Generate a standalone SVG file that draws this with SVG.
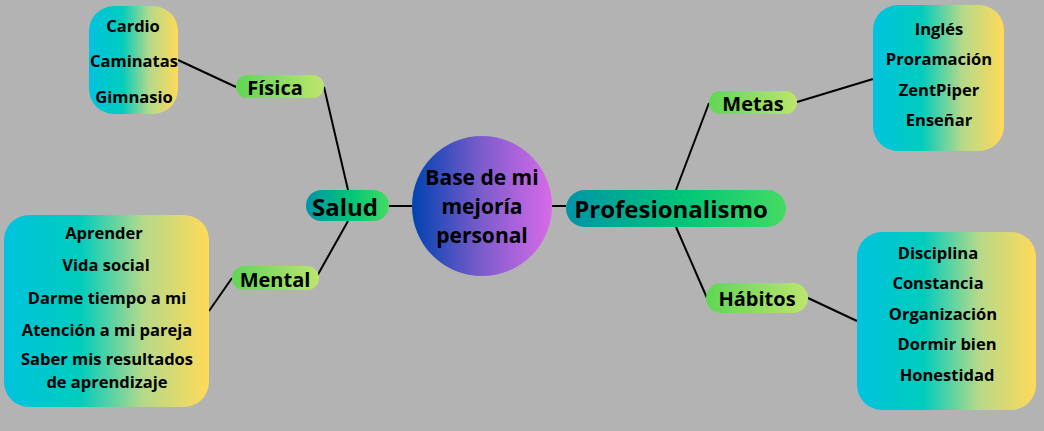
<svg xmlns="http://www.w3.org/2000/svg" width="1044" height="431" viewBox="0 0 1044 431">
<defs>
<linearGradient id="gBox" x1="0" y1="0" x2="1" y2="0">
<stop offset="0" stop-color="#00c3df"/>
<stop offset="0.37" stop-color="#00ccbd"/>
<stop offset="0.68" stop-color="#b5d98a"/>
<stop offset="1" stop-color="#ffda58"/>
</linearGradient>
<linearGradient id="gSub" x1="0" y1="0" x2="1" y2="0">
<stop offset="0" stop-color="#5fd655"/>
<stop offset="1" stop-color="#bde56c"/>
</linearGradient>
<linearGradient id="gMain" x1="0" y1="0" x2="1" y2="0">
<stop offset="0" stop-color="#0094a8"/>
<stop offset="0.55" stop-color="#00c777"/>
<stop offset="1" stop-color="#45da62"/>
</linearGradient>
<linearGradient id="gCircle" x1="0" y1="0" x2="1" y2="0">
<stop offset="0" stop-color="#0043b0"/>
<stop offset="0.5" stop-color="#7d5ccc"/>
<stop offset="1" stop-color="#d86ae8"/>
</linearGradient>
</defs>
<style>
text{font-family:"Open Sans","Noto Sans","Liberation Sans",sans-serif;font-weight:bold;fill:#000;text-anchor:middle;dominant-baseline:central}
.item{font-size:16.5px}
.sub{font-size:20px}
.main{font-size:24px}
.center{font-size:21px}
.conn{stroke:#000;stroke-width:2;fill:none}
</style>
<rect width="1044" height="431" fill="#b3b3b3"/>
<g id="connectors">
<line class="conn" x1="178" y1="60" x2="236" y2="87"/>
<line class="conn" x1="324" y1="87" x2="348" y2="190"/>
<line class="conn" x1="209" y1="311" x2="232" y2="278"/>
<line class="conn" x1="316" y1="278" x2="348" y2="221"/>
<line class="conn" x1="389" y1="206" x2="412" y2="206"/>
<line class="conn" x1="552" y1="206" x2="566" y2="206"/>
<line class="conn" x1="676" y1="190" x2="709" y2="103"/>
<line class="conn" x1="797" y1="102" x2="873" y2="79"/>
<line class="conn" x1="676" y1="227" x2="707" y2="298"/>
<line class="conn" x1="808" y1="298" x2="857" y2="321"/>
</g>
<g id="fisica-items">
<rect x="89" y="6" width="89" height="108" rx="25" fill="url(#gBox)"/>
<text class="item" x="133" y="25">Cardio</text>
<text class="item" x="134" y="60">Caminatas</text>
<text class="item" x="134" y="96">Gimnasio</text>
</g>
<g id="fisica">
<rect x="236" y="75" width="88" height="23" rx="11.5" fill="url(#gSub)"/>
<text class="sub" x="275" y="87">Física</text>
</g>
<g id="mental-items">
<rect x="4" y="215" width="205" height="192" rx="25" fill="url(#gBox)"/>
<text class="item" x="104" y="232">Aprender</text>
<text class="item" x="106" y="264">Vida social</text>
<text class="item" x="107" y="297">Darme tiempo a mi</text>
<text class="item" x="107" y="329">Atención a mi pareja</text>
<text class="item" x="107" y="358">Saber mis resultados</text>
<text class="item" x="107" y="381">de aprendizaje</text>
</g>
<g id="mental">
<rect x="232" y="266" width="87" height="24" rx="12" fill="url(#gSub)"/>
<text class="sub" x="275" y="279">Mental</text>
</g>
<g id="salud">
<rect x="306" y="190" width="83" height="31" rx="15.5" fill="url(#gMain)"/>
<text class="main" x="345" y="206">Salud</text>
</g>
<g id="centro">
<circle cx="482" cy="206" r="70" fill="url(#gCircle)"/>
<text class="center" x="482" y="177">Base de mi</text>
<text class="center" x="482" y="206">mejoría</text>
<text class="center" x="482" y="235">personal</text>
</g>
<g id="profesionalismo">
<rect x="566" y="190" width="220" height="37" rx="18.5" fill="url(#gMain)"/>
<text class="main" x="671" y="208">Profesionalismo</text>
</g>
<g id="metas">
<rect x="709" y="91" width="88" height="23" rx="11.5" fill="url(#gSub)"/>
<text class="sub" x="753" y="103">Metas</text>
</g>
<g id="metas-items">
<rect x="873" y="5" width="131" height="146" rx="25" fill="url(#gBox)"/>
<text class="item" x="939" y="28">Inglés</text>
<text class="item" x="939" y="58">Proramación</text>
<text class="item" x="939" y="89">ZentPiper</text>
<text class="item" x="939" y="119">Enseñar</text>
</g>
<g id="habitos">
<rect x="706" y="283" width="102" height="30" rx="15" fill="url(#gSub)"/>
<text class="sub" x="757" y="298">Hábitos</text>
</g>
<g id="habitos-items">
<rect x="857" y="232" width="179" height="178" rx="25" fill="url(#gBox)"/>
<text class="item" x="938" y="252">Disciplina</text>
<text class="item" x="938" y="282">Constancia</text>
<text class="item" x="943" y="313">Organización</text>
<text class="item" x="947" y="343">Dormir bien</text>
<text class="item" x="947" y="374">Honestidad</text>
</g>
</svg>
